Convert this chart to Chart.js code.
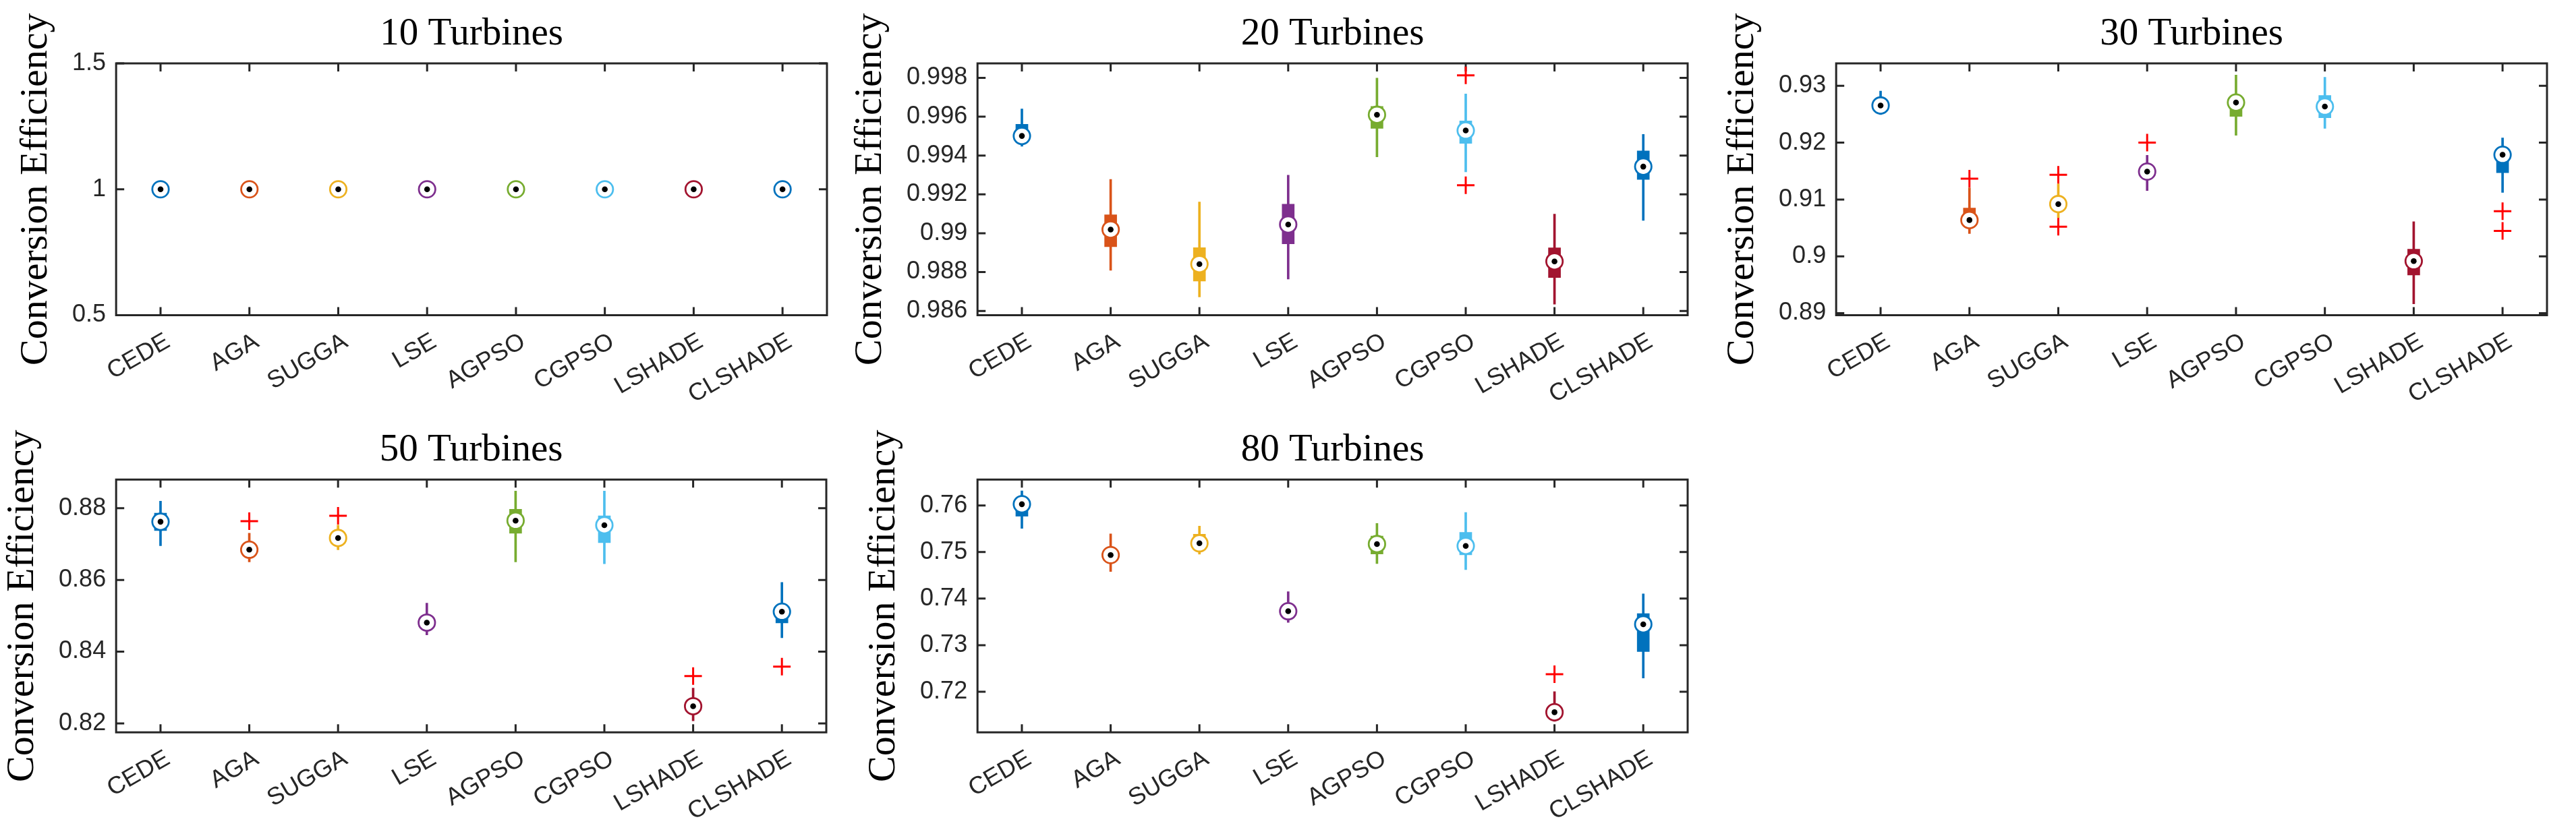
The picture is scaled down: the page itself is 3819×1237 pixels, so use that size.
<!DOCTYPE html>
<html>
<head>
<meta charset="utf-8">
<script src="https://cdn.jsdelivr.net/npm/chart.js@4.4.1/dist/chart.umd.min.js"></script>
<style>
html,body{margin:0;padding:0;background:#fff;}
body{width:3819px;height:1237px;position:relative;overflow:hidden;}
canvas{position:absolute;}
</style>
</head>
<body>
<script>
// ---------------- DATA ----------------
const categories = ['CEDE','AGA','SUGGA','LSE','AGPSO','CGPSO','LSHADE','CLSHADE'];
const titles = ['10 Turbines','20 Turbines','30 Turbines','50 Turbines','80 Turbines'];
const yAxisLabel = 'Conversion Efficiency';

// 10 turbines
const lower10  = [1,1,1,1,1,1,1,1];
const q1_10    = [1,1,1,1,1,1,1,1];
const median10 = [1,1,1,1,1,1,1,1];
const q3_10    = [1,1,1,1,1,1,1,1];
const upper10  = [1,1,1,1,1,1,1,1];
const outliers10 = [];
const ticks10 = [0.5, 1, 1.5];
const range10 = [0.5, 1.5];

// 20 turbines
const lower20  = [0.99448, 0.98809, 0.98672, 0.98764, 0.99393, 0.99316, 0.98635, 0.99066];
const q1_20    = [0.99480, 0.98931, 0.98754, 0.98945, 0.99540, 0.99463, 0.98772, 0.99277];
const median20 = [0.99501, 0.99019, 0.98841, 0.99045, 0.99610, 0.99529, 0.98855, 0.99343];
const q3_20    = [0.99561, 0.99095, 0.98926, 0.99150, 0.99653, 0.99578, 0.98925, 0.99424];
const upper20  = [0.99640, 0.99277, 0.99161, 0.99299, 0.99799, 0.99717, 0.99098, 0.99509];
const outliers20 = [['CGPSO', 0.99813], ['CGPSO', 0.99247]];
const ticks20 = [0.986, 0.988, 0.990, 0.992, 0.994, 0.996, 0.998];
const range20 = [0.98578, 0.998745];

// 30 turbines
const lower30  = [0.92495, 0.90399, 0.90675, 0.91158, 0.92129, 0.92251, 0.89165, 0.91125];
const q1_30    = [0.92580, 0.90560, 0.90830, 0.91400, 0.92462, 0.92438, 0.89672, 0.91472];
const median30 = [0.92654, 0.90638, 0.90919, 0.91491, 0.92706, 0.92635, 0.89916, 0.91787];
const q3_30    = [0.92730, 0.90849, 0.91000, 0.91580, 0.92800, 0.92832, 0.90127, 0.91850];
const upper30  = [0.92907, 0.91205, 0.91276, 0.91777, 0.93189, 0.93151, 0.90610, 0.92082];
const outliers30 = [['AGA', 0.91365], ['SUGGA', 0.91435], ['SUGGA', 0.90521], ['LSE', 0.92002], ['CLSHADE', 0.90793], ['CLSHADE', 0.90446]];
const ticks30 = [0.89, 0.90, 0.91, 0.92, 0.93];
const range30 = [0.88964, 0.93395];

// 50 turbines
const lower50  = [0.86956, 0.86503, 0.86844, 0.84468, 0.86503, 0.86451, 0.82069, 0.84386];
const q1_50    = [0.87379, 0.86700, 0.87000, 0.84650, 0.87305, 0.87038, 0.82330, 0.84802];
const median50 = [0.87624, 0.86844, 0.87171, 0.84810, 0.87654, 0.87528, 0.82478, 0.85114];
const q3_50    = [0.87862, 0.86980, 0.87340, 0.84960, 0.87973, 0.87788, 0.82620, 0.85250];
const upper50  = [0.88196, 0.87305, 0.87528, 0.85352, 0.88478, 0.88478, 0.82983, 0.85931];
const outliers50 = [['AGA', 0.87639], ['SUGGA', 0.87788], ['LSHADE', 0.83317], ['CLSHADE', 0.83584]];
const ticks50 = [0.82, 0.84, 0.86, 0.88];
const range50 = [0.81750, 0.88800];

// 80 turbines
const lower80  = [0.75509, 0.74580, 0.74953, 0.73489, 0.74752, 0.74620, 0.71366, 0.72296];
const q1_80    = [0.75768, 0.74800, 0.75050, 0.73600, 0.74958, 0.74941, 0.71470, 0.72864];
const median80 = [0.76026, 0.74935, 0.75188, 0.73730, 0.75171, 0.75131, 0.71561, 0.73449];
const q3_80    = [0.76150, 0.75050, 0.75381, 0.73850, 0.75343, 0.75423, 0.71650, 0.73679];
const upper80  = [0.76313, 0.75389, 0.75555, 0.74149, 0.75613, 0.75848, 0.72003, 0.74103];
const outliers80 = [['LSHADE', 0.72376]];
const ticks80 = [0.72, 0.73, 0.74, 0.75, 0.76];
const range80 = [0.71130, 0.76555];

// ---------------- STYLE / LAYOUT ----------------
const palette = ['#0072BD','#D95319','#EDB120','#7E2F8E','#77AC30','#4DBEEE','#A2142F','#0072BD'];
const AXIS_COLOR = '#262626';
const SANS = '"Liberation Sans", Arial, Helvetica, sans-serif';
const SERIF = '"Liberation Serif", "Times New Roman", serif';
const TICK_SIZE = 36;
const YTITLE_SIZE = 58;
const YTITLE_PAD_BOTTOM = 3.5;
const YTICK_PAD = 15;
const TITLE_SIZE = 57;
const TICK_LEN = 12;

const rows = [
  {top: 0,   H: 617, chartTop: 94.0, chartBottom: 467.5},
  {top: 617, H: 620, chartTop: 94.3, chartBottom: 469.2}
];
const cols = [
  {L: 172,    R: 1245.5},
  {L: 1449,   R: 2523},
  {L: 2722.5, R: 3797}
];

const panels = [
  {title: titles[0], lower: lower10, q1: q1_10, median: median10, q3: q3_10, upper: upper10, outliers: outliers10, ticks: ticks10, range: range10, row: 0, col: 0},
  {title: titles[1], lower: lower20, q1: q1_20, median: median20, q3: q3_20, upper: upper20, outliers: outliers20, ticks: ticks20, range: range20, row: 0, col: 1},
  {title: titles[2], lower: lower30, q1: q1_30, median: median30, q3: q3_30, upper: upper30, outliers: outliers30, ticks: ticks30, range: range30, row: 0, col: 2},
  {title: titles[3], lower: lower50, q1: q1_50, median: median50, q3: q3_50, upper: upper50, outliers: outliers50, ticks: ticks50, range: range50, row: 1, col: 0},
  {title: titles[4], lower: lower80, q1: q1_80, median: median80, q3: q3_80, upper: upper80, outliers: outliers80, ticks: ticks80, range: range80, row: 1, col: 1}
];

function tickText(v) { return String(parseFloat(Number(v).toFixed(6))); }

const mctx = document.createElement('canvas').getContext('2d');
mctx.font = TICK_SIZE + 'px ' + SANS;

// axes box with inward ticks on all four sides
const framePlugin = {
  id: 'matlabFrame',
  beforeDatasetsDraw(chart) {
    const {ctx, chartArea: a, scales: {x, y}} = chart;
    ctx.save();
    ctx.strokeStyle = AXIS_COLOR;
    ctx.lineWidth = 3;
    ctx.beginPath();
    x.ticks.forEach((t, i) => {
      const px = x.getPixelForTick(i);
      ctx.moveTo(px, a.bottom); ctx.lineTo(px, a.bottom - TICK_LEN);
      ctx.moveTo(px, a.top);    ctx.lineTo(px, a.top + TICK_LEN);
    });
    y.ticks.forEach(t => {
      const py = y.getPixelForValue(t.value);
      ctx.moveTo(a.left, py);  ctx.lineTo(a.left + TICK_LEN, py);
      ctx.moveTo(a.right, py); ctx.lineTo(a.right - TICK_LEN, py);
    });
    ctx.stroke();
    ctx.strokeRect(a.left, a.top, a.right - a.left, a.bottom - a.top);
    ctx.restore();
  }
};

function build(p) {
  const row = rows[p.row], col = cols[p.col];
  const widest = Math.max(...p.ticks.map(t => mctx.measureText(tickText(t)).width));
  const N = 1.2 * YTITLE_SIZE + YTITLE_PAD_BOTTOM + widest + YTICK_PAD;
  const W = Math.round(N + (col.R - col.L) + 10);
  const cv = document.createElement('canvas');
  cv.width = W; cv.height = row.H;
  cv.style.width = W + 'px'; cv.style.height = row.H + 'px';
  cv.style.left = (col.L - N) + 'px';
  cv.style.top = row.top + 'px';
  document.body.appendChild(cv);

  const titlePadTop = 70 - 0.3375 * TITLE_SIZE - 0.6 * TITLE_SIZE;
  const titlePadBottom = row.chartTop - titlePadTop - 1.2 * TITLE_SIZE;
  const xAxisHeight = row.H - row.chartBottom;

  const pts = arr => arr.map((v, i) => ({x: categories[i], y: v}));

  const chart = new Chart(cv, {
    type: 'bar',
    data: {
      labels: categories,
      datasets: [
        { type: 'bar', label: 'whisker', data: categories.map((c, i) => [p.lower[i], p.upper[i]]),
          backgroundColor: palette, borderWidth: 0, barThickness: 3, grouped: false, order: 5 },
        { type: 'bar', label: 'box', data: categories.map((c, i) => [p.q1[i], p.q3[i]]),
          backgroundColor: palette, borderWidth: 0, barThickness: 18, grouped: false, order: 4 },
        { type: 'line', label: 'median', data: pts(p.median), showLine: false,
          pointStyle: 'circle', pointRadius: 12.2, pointBorderWidth: 2.8,
          pointBackgroundColor: '#ffffff', pointBorderColor: palette, order: 3 },
        { type: 'line', label: 'dot', data: pts(p.median), showLine: false,
          pointStyle: 'circle', pointRadius: 4.3, pointBorderWidth: 0,
          pointBackgroundColor: '#000000', pointBorderColor: '#000000', order: 2 },
        { type: 'line', label: 'outliers', data: p.outliers.map(o => ({x: o[0], y: o[1]})), showLine: false,
          pointStyle: 'cross', pointRadius: 13, pointBorderWidth: 3,
          pointBorderColor: '#FF0000', pointBackgroundColor: '#FF0000', order: 1 }
      ]
    },
    options: {
      responsive: false,
      maintainAspectRatio: false,
      devicePixelRatio: 1,
      animation: false,
      events: [],
      layout: { padding: { left: 0, right: 10, top: 0, bottom: 0 } },
      plugins: {
        legend: { display: false },
        tooltip: { enabled: false },
        title: {
          display: true, text: p.title, color: '#000000', fullSize: false,
          font: { family: SERIF, size: TITLE_SIZE, weight: 'normal', lineHeight: 1.2 },
          padding: { top: titlePadTop, bottom: titlePadBottom }
        }
      },
      scales: {
        x: {
          type: 'category', offset: true,
          grid: { display: false, drawTicks: false },
          border: { display: false },
          ticks: {
            autoSkip: false, minRotation: 30, maxRotation: 30, padding: 18, labelOffset: 11,
            color: AXIS_COLOR, font: { family: SANS, size: TICK_SIZE }
          },
          afterFit: s => { s.height = xAxisHeight; }
        },
        y: {
          type: 'linear', min: p.range[0], max: p.range[1], bounds: 'data',
          grid: { display: false, drawTicks: false },
          border: { display: false },
          afterBuildTicks: s => { s.ticks = p.ticks.map(v => ({ value: v })); },
          ticks: {
            padding: YTICK_PAD, color: AXIS_COLOR,
            font: { family: SANS, size: TICK_SIZE },
            callback: v => tickText(v)
          },
          title: {
            display: true, text: yAxisLabel, color: '#000000',
            font: { family: SERIF, size: YTITLE_SIZE, weight: 'normal', lineHeight: 1.2 },
            padding: { top: 0, bottom: YTITLE_PAD_BOTTOM }
          }
        }
      }
    },
    plugins: [framePlugin]
  });
  cv.style.left = (col.L - chart.chartArea.left) + 'px';
  return chart;
}

panels.forEach(build);
</script>
</body>
</html>
